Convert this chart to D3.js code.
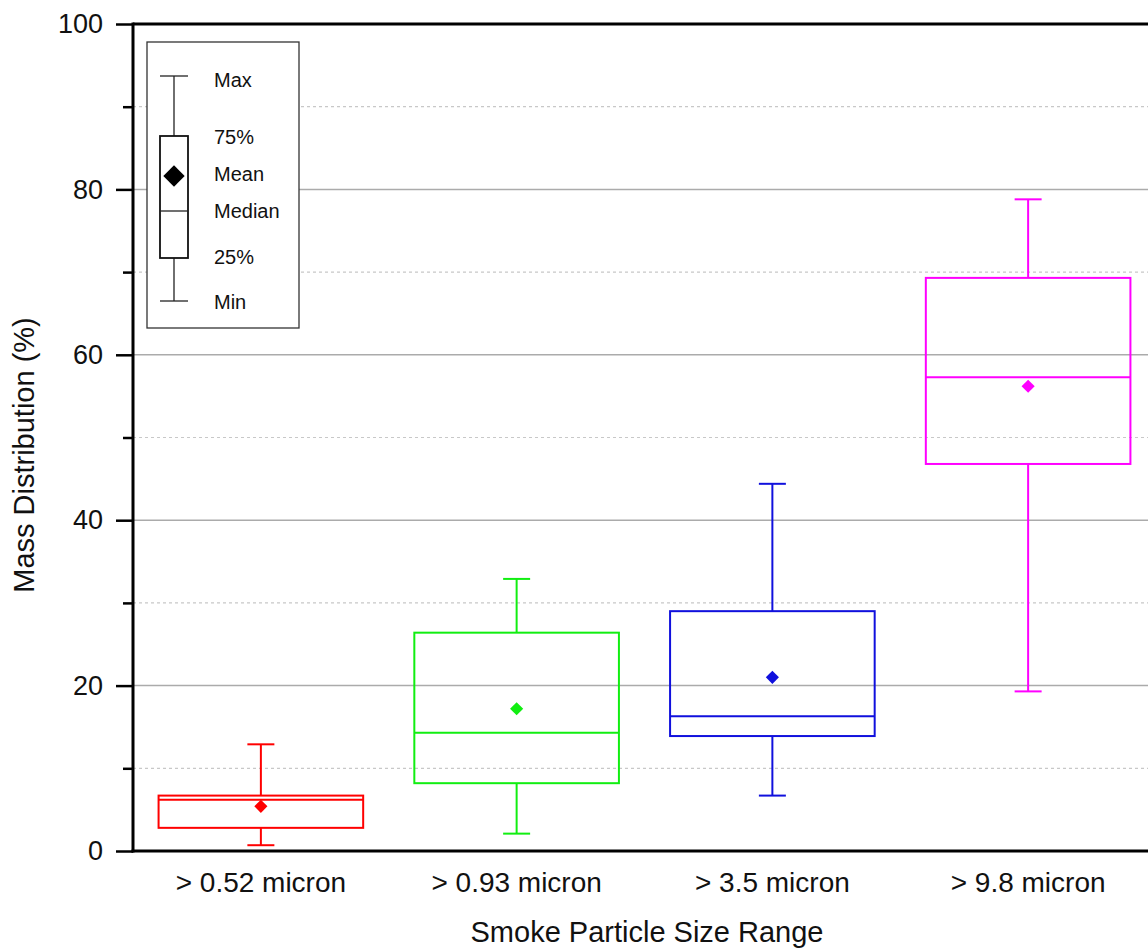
<!DOCTYPE html>
<html>
<head>
<meta charset="utf-8">
<script src="https://cdn.jsdelivr.net/npm/d3@7"></script>
<style>
  html, body { margin: 0; padding: 0; background: #fff; }
  svg { display: block; font-family: "Liberation Sans", Arial, sans-serif; }
</style>
</head>
<body>
<svg id="chart" width="1148" height="949"></svg>
<script>
// ---- data ----
const categories = ["> 0.52 micron", "> 0.93 micron", "> 3.5 micron", "> 9.8 micron"];
const mins    = [0.7, 2.1, 6.7, 19.3];
const q1s     = [2.8, 8.2, 13.9, 46.8];
const medians = [6.2, 14.3, 16.3, 57.3];
const q3s     = [6.7, 26.4, 29.0, 69.3];
const maxs    = [12.9, 32.9, 44.4, 78.8];
const means   = [5.4, 17.2, 21.0, 56.2];
const colors  = ["#ff0000", "#11ee11", "#1010dd", "#ff00ff"];
const yMajorTicks = [0, 20, 40, 60, 80, 100];
const yMinorTicks = [10, 30, 50, 70, 90];
const legendLabels = ["Max", "75%", "Mean", "Median", "25%", "Min"];
const xTitle = "Smoke Particle Size Range";
const yTitle = "Mass Distribution (%)";

(function () {
// ---- layout ----
const svg = d3.select("#chart");
const pL = 133, pR = 1156, pT = 24, pB = 851;

const x = d3.scaleBand().domain(categories).range([pL, pR]).paddingInner(0.2).paddingOuter(0.1);
const y = d3.scaleLinear().domain([0, 100]).range([pB, pT]);

const data = categories.map((c, i) => ({
  cat: c, min: mins[i], q1: q1s[i], med: medians[i], q3: q3s[i], max: maxs[i], mean: means[i], color: colors[i]
}));

// gridlines
svg.append("g").selectAll("line").data(yMinorTicks).join("line")
  .attr("x1", pL).attr("x2", pR)
  .attr("y1", d => y(d)).attr("y2", d => y(d))
  .attr("stroke", "#c8c8c8").attr("stroke-width", 1.2).attr("stroke-dasharray", "3,3");
svg.append("g").selectAll("line").data(yMajorTicks.filter(d => d > 0 && d < 100)).join("line")
  .attr("x1", pL).attr("x2", pR)
  .attr("y1", d => y(d)).attr("y2", d => y(d))
  .attr("stroke", "#ababab").attr("stroke-width", 1.5);

// boxes
const cap = 27;
const g = svg.append("g").selectAll("g").data(data).join("g");
g.each(function(d) {
  const s = d3.select(this);
  const cx = x(d.cat) + x.bandwidth() / 2;
  const bw = x.bandwidth();
  const x0 = x(d.cat);
  s.append("line").attr("x1", cx).attr("x2", cx).attr("y1", y(d.q3)).attr("y2", y(d.max))
    .attr("stroke", d.color).attr("stroke-width", 2);
  s.append("line").attr("x1", cx).attr("x2", cx).attr("y1", y(d.q1)).attr("y2", y(d.min))
    .attr("stroke", d.color).attr("stroke-width", 2);
  s.append("line").attr("x1", cx - cap / 2).attr("x2", cx + cap / 2).attr("y1", y(d.max)).attr("y2", y(d.max))
    .attr("stroke", d.color).attr("stroke-width", 2);
  s.append("line").attr("x1", cx - cap / 2).attr("x2", cx + cap / 2).attr("y1", y(d.min)).attr("y2", y(d.min))
    .attr("stroke", d.color).attr("stroke-width", 2);
  s.append("rect").attr("x", x0).attr("width", bw)
    .attr("y", y(d.q3)).attr("height", y(d.q1) - y(d.q3))
    .attr("fill", "none").attr("stroke", d.color).attr("stroke-width", 2);
  s.append("line").attr("x1", x0).attr("x2", x0 + bw).attr("y1", y(d.med)).attr("y2", y(d.med))
    .attr("stroke", d.color).attr("stroke-width", 2);
  s.append("path").attr("d", d3.symbol(d3.symbolDiamond2, 110)())
    .attr("transform", `translate(${cx},${y(d.mean)})`).attr("fill", d.color);
});

// frame top
svg.append("line").attr("x1", pL).attr("x2", pR).attr("y1", pT).attr("y2", pT)
  .attr("stroke", "#000").attr("stroke-width", 3);

const yAxis = d3.axisLeft(y).tickValues(yMajorTicks).tickSize(17).tickPadding(13).tickFormat(d3.format("d"));
const ya = svg.append("g").attr("transform", `translate(${pL},0)`).call(yAxis);
ya.select(".domain").attr("stroke-width", 3).attr("d", `M0,${pT - 1.5}V${pB + 1.5}`);
ya.selectAll(".tick line").attr("stroke-width", 2.5);
ya.selectAll(".tick text").attr("font-size", 27).attr("font-family", "Liberation Sans, Arial, sans-serif").attr("fill", "#111");
const yMinorAxis = d3.axisLeft(y).tickValues(yMinorTicks).tickSize(10).tickFormat("");
const ym = svg.append("g").attr("transform", `translate(${pL},0)`).call(yMinorAxis);
ym.select(".domain").remove();
ym.selectAll(".tick line").attr("stroke-width", 2.5);

const xAxis = d3.axisBottom(x).tickSize(0).tickPadding(21);
const xa = svg.append("g").attr("transform", `translate(0,${pB})`).call(xAxis);
xa.select(".domain").attr("stroke-width", 3).attr("d", `M${pL - 1.5},0H${pR}`);
xa.selectAll(".tick text").attr("font-size", 28).attr("font-family", "Liberation Sans, Arial, sans-serif").attr("fill", "#111");

// titles
svg.append("text").attr("x", 647).attr("y", 942).attr("text-anchor", "middle")
  .attr("font-size", 29).attr("fill", "#111").text(xTitle);
svg.append("text").attr("transform", `translate(34,455) rotate(-90)`).attr("text-anchor", "middle")
  .attr("font-size", 29).attr("fill", "#111").text(yTitle);

// legend
const lg = svg.append("g");
lg.append("rect").attr("x", 147).attr("y", 42).attr("width", 152).attr("height", 286)
  .attr("fill", "#fff").attr("stroke", "#333").attr("stroke-width", 1.3);
const lyPos = { "Max": 76, "75%": 136, "Mean": 176, "Median": 211, "25%": 258, "Min": 301 };
const lcx = 174;
lg.append("line").attr("x1", lcx).attr("x2", lcx).attr("y1", lyPos.Max).attr("y2", lyPos["75%"]).attr("stroke", "#222").attr("stroke-width", 1.3);
lg.append("line").attr("x1", lcx).attr("x2", lcx).attr("y1", lyPos["25%"]).attr("y2", lyPos.Min).attr("stroke", "#222").attr("stroke-width", 1.3);
lg.append("line").attr("x1", lcx - 14).attr("x2", lcx + 14).attr("y1", lyPos.Max).attr("y2", lyPos.Max).attr("stroke", "#222").attr("stroke-width", 1.3);
lg.append("line").attr("x1", lcx - 14).attr("x2", lcx + 14).attr("y1", lyPos.Min).attr("y2", lyPos.Min).attr("stroke", "#222").attr("stroke-width", 1.3);
lg.append("rect").attr("x", lcx - 14).attr("width", 28).attr("y", lyPos["75%"]).attr("height", lyPos["25%"] - lyPos["75%"])
  .attr("fill", "none").attr("stroke", "#111").attr("stroke-width", 1.8);
lg.append("line").attr("x1", lcx - 14).attr("x2", lcx + 14).attr("y1", lyPos.Median).attr("y2", lyPos.Median).attr("stroke", "#222").attr("stroke-width", 1.3);
lg.append("path").attr("d", d3.symbol(d3.symbolDiamond2, 290)()).attr("transform", `translate(${lcx},${lyPos.Mean})`).attr("fill", "#000");
const labelY = { "Max": 80, "75%": 137, "Mean": 174, "Median": 211, "25%": 257, "Min": 302 };
lg.selectAll("text").data(legendLabels).join("text")
  .attr("x", 214).attr("y", d => labelY[d]).attr("dy", "0.35em")
  .attr("font-size", 20).attr("fill", "#111").text(d => d);
})();
</script>
</body>
</html>
